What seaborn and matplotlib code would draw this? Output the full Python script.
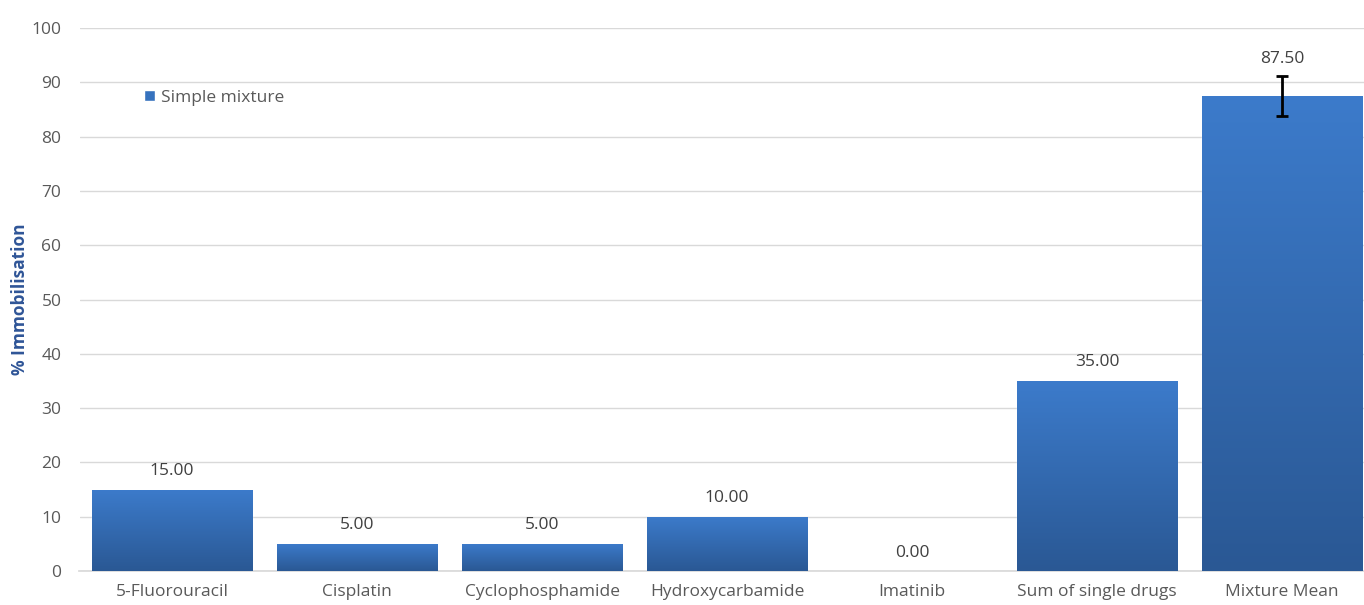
import numpy as np
import pandas as pd
import matplotlib
matplotlib.use('Agg')
import matplotlib.pyplot as plt
from matplotlib.colors import LinearSegmentedColormap
from matplotlib.patches import Patch
import seaborn as sns

# datos
drogas = ['5-Fluorouracil', 'Cisplatin', 'Cyclophosphamide', 'Hydroxycarbamide',
          'Imatinib', 'Sum of single drugs', 'Mixture Mean']
inmovilizacion = [15.0, 5.0, 5.0, 10.0, 0.0, 35.0, 87.5]
error_mezcla = [0, 0, 0, 0, 0, 0, 3.75]

sns.set_theme(style='white')
plt.rcParams['font.family'] = ['Open Sans', 'DejaVu Sans']

df = pd.DataFrame({'droga': drogas, 'valor': inmovilizacion})

fig = plt.figure(figsize=(13.64, 6.05), dpi=100)
ax = fig.add_axes([79.5 / 1364, 34 / 605, 1295 / 1364, 543 / 605])

sns.barplot(data=df, x='droga', y='valor', color='#3672BE', width=0.865,
            saturation=1, ax=ax, zorder=2)

# degradado vertical en cada barra
cmap = LinearSegmentedColormap.from_list('azul', ['#2A5894', '#3C7BCB'])
grad = np.linspace(0, 1, 256).reshape(-1, 1)
for p in ax.patches:
    x0, y0 = p.get_x(), p.get_y()
    w, h = p.get_width(), p.get_height()
    if h <= 0:
        continue
    im = ax.imshow(grad, cmap=cmap, origin='lower', aspect='auto',
                   extent=[x0, x0 + w, y0, y0 + h], zorder=3)
    im.set_clip_path(p)
    p.set_facecolor('none')

ax.errorbar(6, inmovilizacion[6], yerr=error_mezcla[6], fmt='none',
            ecolor='black', elinewidth=2, capsize=4, capthick=2, zorder=5)

for i, v in enumerate(inmovilizacion):
    off = 3.4 if i < 6 else 6.7
    ax.text(i, v + off, f'{v:.2f}', ha='center', va='center',
            fontsize=12.5, color='#404040')

ax.set_xlim(-0.5, 6.5)
ax.set_ylim(0, 100)
ax.set_yticks(range(0, 101, 10))
ax.yaxis.grid(True, color='#D9D9D9', linewidth=1)
ax.set_axisbelow(True)
for s in ['top', 'right', 'left']:
    ax.spines[s].set_visible(False)
ax.spines['bottom'].set_color('#D9D9D9')
ax.tick_params(axis='both', length=0, labelsize=12.5, labelcolor='#595959', pad=9)
ax.tick_params(axis='y', pad=13)
ax.set_xlabel('')
ax.set_ylabel('% Immobilisation', fontsize=12.5, fontweight='bold',
              color='#2F5597')
ax.yaxis.set_label_coords(-0.039, 0.5)

ax.legend(handles=[Patch(facecolor='#3672BE', label='Simple mixture')],
          loc='center left', bbox_to_anchor=(0.038, 0.872), frameon=False,
          fontsize=12.5, handlelength=0.6, handleheight=0.6, handletextpad=0.35,
          labelcolor='#595959')

fig.savefig('out.png', dpi=100)
